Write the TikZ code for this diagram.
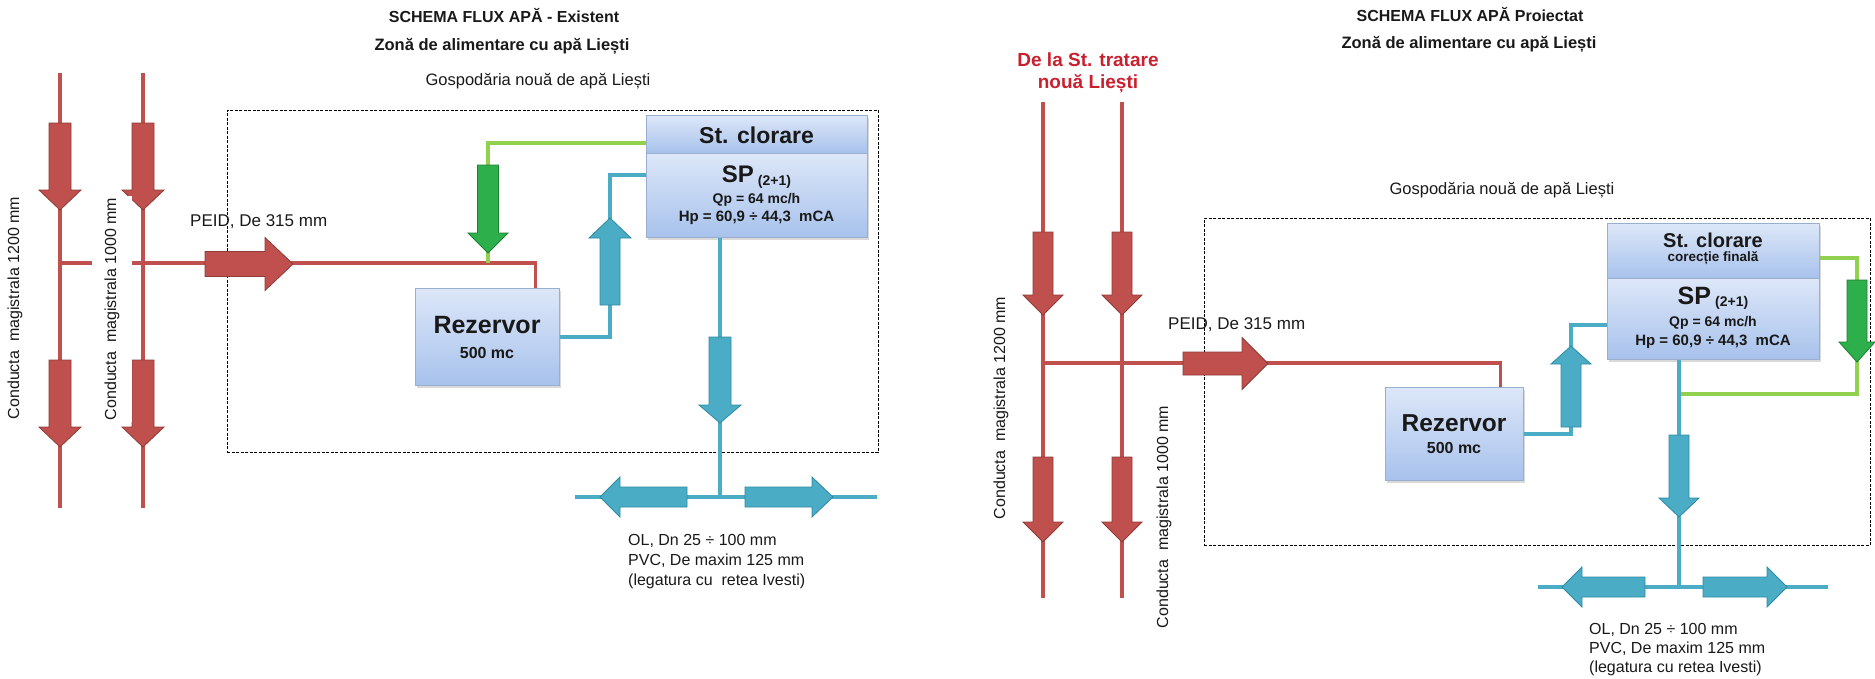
\documentclass[tikz,border=0pt]{standalone}
\usepackage{fontspec}
\setmainfont{Liberation Sans}
\usetikzlibrary{shadows}
\definecolor{rd}{HTML}{C0504D}
\definecolor{rdd}{HTML}{8E3B38}
\definecolor{bl}{HTML}{4BACC6}
\definecolor{bld}{HTML}{2E8AA3}
\definecolor{gr}{HTML}{2DB04B}
\definecolor{grd}{HTML}{1C7F34}
\definecolor{gl}{HTML}{92D050}
\definecolor{boxt}{HTML}{DDE7F8}
\definecolor{boxbot}{HTML}{A8C2EC}
\definecolor{boxb}{HTML}{9AAFCF}
\definecolor{redtxt}{HTML}{C8202F}
\newcommand\fsz[1]{\fontsize{#1}{#1}\selectfont}
% vertical block arrow: x, ytail, ybase, ytip, half shaft, half head, style
\newcommand\vblock[7]{\filldraw[#7] ({#1-#5},#2) -- ({#1-#5},#3) -- ({#1-#6},#3) -- (#1,#4) -- ({#1+#6},#3) -- ({#1+#5},#3) -- ({#1+#5},#2) -- cycle;}
% horizontal block arrow: y, xtail, xbase, xtip, half shaft, half head, style
\newcommand\hblock[7]{\filldraw[#7] (#2,{#1-#5}) -- (#3,{#1-#5}) -- (#3,{#1-#6}) -- (#4,#1) -- (#3,{#1+#6}) -- (#3,{#1+#5}) -- (#2,{#1+#5}) -- cycle;}
\tikzset{
 redline/.style={draw=rd, line width=3.5pt},
 blueline/.style={draw=bl, line width=4pt},
 greenline/.style={draw=gl, line width=4pt},
 redarrow/.style={fill=rd, draw=rdd, line width=0.8pt, line join=miter},
 bluearrow/.style={fill=bl, draw=bld, line width=0.8pt, line join=miter},
 greenarrow/.style={fill=gr, draw=grd, line width=0.8pt, line join=miter},
 bluebox/.style={draw=boxb, line width=1pt, top color=boxt, bottom color=boxbot, inner sep=0pt,
   drop shadow={opacity=0.3, shadow xshift=2pt, shadow yshift=-3pt}},
 dashbox/.style={draw=black, line width=0.9pt, dash pattern=on 3pt off 1.5pt, inner sep=0pt},
 lbl/.style={inner sep=0pt, text=black!90},
 rot/.style={lbl, rotate=90, font=\fsz{16}},
}
\begin{document}
\begin{tikzpicture}[x=1pt,y=-1pt]
\useasboundingbox (0,0) rectangle (1875,678);
% ================= LEFT PANEL =================
\node[lbl,font=\fsz{16}\bfseries] (titleL) at (504,16) {SCHEMA FLUX APĂ - Existent};
\node[lbl,font=\fsz{16.5}\bfseries] (subL) at (502,46) {Zonă de alimentare cu apă Liești};
\node[lbl,font=\fsz{16.5}] (gospL) at (538,81) {Gospodăria nouă de apă Liești};
\node[dashbox, minimum width=651pt, minimum height=342pt] (frameL) at (552.5,281) {};
% boxes
\node[bluebox, minimum width=221pt, minimum height=38pt] (clorL) at (756.5,134) {};
\node[bluebox, minimum width=221pt, minimum height=84pt] (spL) at (756.5,195) {};
\node[bluebox, minimum width=144pt, minimum height=97pt] (rezL) at (487,336.5) {};
% coordinates
\coordinate (pL1t) at (60,73);  \coordinate (pL1b) at (60,508);
\coordinate (pL2t) at (143,73); \coordinate (pL2b) at (143,508);
\coordinate (jL) at (60,263);
\coordinate (gjL) at (488,263);
\coordinate (buL) at (610,280);
\coordinate (bjL) at (720,497);
\coordinate (dL1) at (575,497); \coordinate (dL2) at (877,497);
% lines
\draw[redline] (pL1t) -- (pL1b);
\draw[redline] (pL2t) -- (pL2b);
\draw[redline] (jL) -| ([xshift=-24pt]rezL.north east);
\draw[greenline] ([yshift=-9pt]clorL.west) -| (gjL);
\draw[blueline] (rezL.east) -| (buL) |- ([yshift=20pt]spL.west);
\draw[blueline] ([xshift=-36.5pt]spL.south) -- (bjL);
\draw[blueline] (dL1) -- (dL2);
% block arrows
\vblock{60}{123}{190}{210}{11}{21}{redarrow}
\vblock{143}{123}{190}{210}{11}{21}{redarrow}
\vblock{60}{360}{427}{447}{11}{21}{redarrow}
\vblock{143}{360}{427}{447}{11}{21}{redarrow}
\hblock{264}{205}{265}{293}{12.5}{26.5}{redarrow}
\vblock{488}{165}{233}{253}{10.5}{20}{greenarrow}
\vblock{610}{305}{238}{218}{10}{21}{bluearrow}
\vblock{720}{337}{405}{423}{11}{21}{bluearrow}
\hblock{497}{687}{620}{600}{10}{20}{bluearrow}
\hblock{497}{745}{812}{833}{10}{20}{bluearrow}
% labels
\node[rot] (c1200L) at (15,308) {Conducta\ \ magistrala 1200 mm};
\node[rot, fill=white, inner xsep=2pt, inner ysep=13pt] (c1000L) at (112,309) {Conducta\ \ magistrala 1000 mm};
\node[lbl,font=\fsz{17},anchor=west] (peidL) at (190,222) {PEID, De 315 mm};
\node[lbl,font=\fsz{23}\bfseries] (clorLt) at (756.5,135) {St. clorare};
\node[lbl,font=\fsz{24}\bfseries] (spLt) at (756.5,177) {SP\,\raisebox{-2.5pt}{\fsz{14}(2+1)}};
\node[lbl,font=\fsz{14}\bfseries] (qpL) at (756.5,200) {Qp = 64 mc/h};
\node[lbl,font=\fsz{15}\bfseries] (hpL) at (756.5,218) {Hp = 60,9 ÷ 44,3\ \ mCA};
\node[lbl,font=\fsz{25}\bfseries] (rezLt) at (487,325) {Rezervor};
\node[lbl,font=\fsz{16}\bfseries] (rezLv) at (487,353) {500 mc};
\node[lbl,font=\fsz{16},anchor=west] (olL1) at (628,541) {OL, Dn 25 ÷ 100 mm};
\node[lbl,font=\fsz{16},anchor=west] (olL2) at (628,561) {PVC, De maxim 125 mm};
\node[lbl,font=\fsz{16},anchor=west] (olL3) at (628,581) {(legatura cu\ \ retea Ivesti)};
% ================= RIGHT PANEL =================
\node[lbl,font=\fsz{16}\bfseries] (titleR) at (1470,15) {SCHEMA FLUX APĂ Proiectat};
\node[lbl,font=\fsz{16.5}\bfseries] (subR) at (1469,44) {Zonă de alimentare cu apă Liești};
\node[lbl,font=\fsz{19}\bfseries,text=redtxt] (delaR1) at (1088,60) {De la St. tratare};
\node[lbl,font=\fsz{19}\bfseries,text=redtxt] (delaR2) at (1088,84) {nouă Liești};
\node[lbl,font=\fsz{16.5}] (gospR) at (1502,190) {Gospodăria nouă de apă Liești};
\node[dashbox, minimum width=666pt, minimum height=327pt] (frameR) at (1537,381.5) {};
% boxes
\node[bluebox, minimum width=212pt, minimum height=55pt] (clorR) at (1713,250.5) {};
\node[bluebox, minimum width=212pt, minimum height=81pt] (spR) at (1713,318.5) {};
\node[bluebox, minimum width=138pt, minimum height=93pt] (rezR) at (1454,433.5) {};
% coordinates
\coordinate (pR1t) at (1043,102); \coordinate (pR1b) at (1043,598);
\coordinate (pR2t) at (1122,102); \coordinate (pR2b) at (1122,598);
\coordinate (jR) at (1043,363);
\coordinate (gcR) at (1857,394);
\coordinate (gjR) at (1679,394);
\coordinate (buR) at (1571,380);
\coordinate (bjR) at (1679,587);
\coordinate (dR1) at (1538,587); \coordinate (dR2) at (1828,587);
% lines
\draw[redline] (pR1t) -- (pR1b);
\draw[redline] (pR2t) -- (pR2b);
\draw[redline] (jR) -| ([xshift=-23pt]rezR.north east);
\draw[greenline] ([yshift=-7.5pt]clorR.east) -| (gcR) -- (gjR);
\draw[blueline] (rezR.east) -| (buR) |- ([yshift=-6.5pt]spR.west);
\draw[blueline] ([xshift=-34pt]spR.south) -- (bjR);
\draw[blueline] (dR1) -- (dR2);
% block arrows
\vblock{1043}{232}{295}{315}{10}{20}{redarrow}
\vblock{1122}{232}{295}{315}{10}{20}{redarrow}
\vblock{1043}{457}{522}{542}{10}{20}{redarrow}
\vblock{1122}{457}{522}{542}{10}{20}{redarrow}
\hblock{363.5}{1183}{1242}{1268}{11.5}{26}{redarrow}
\vblock{1857}{280}{342}{362}{10}{18}{greenarrow}
\vblock{1571}{427}{364}{346}{10}{20}{bluearrow}
\vblock{1679}{435}{498}{517}{10}{20}{bluearrow}
\hblock{587}{1645}{1582}{1562}{10}{20}{bluearrow}
\hblock{587}{1703}{1767}{1787}{10}{20}{bluearrow}
% labels
\node[rot] (c1200R) at (1001,408) {Conducta\ \ magistrala 1200 mm};
\node[rot] (c1000R) at (1164,517) {Conducta\ \ magistrala 1000 mm};
\node[lbl,font=\fsz{17},anchor=west] (peidR) at (1168,325) {PEID, De 315 mm};
\node[lbl,font=\fsz{20}\bfseries] (clorRt) at (1713,240) {St. clorare};
\node[lbl,font=\fsz{13.5}\bfseries] (clorRs) at (1713,258) {corecție finală};
\node[lbl,font=\fsz{25}\bfseries] (spRt) at (1713,298) {SP\,\raisebox{-2.5pt}{\fsz{14}(2+1)}};
\node[lbl,font=\fsz{14}\bfseries] (qpR) at (1713,323) {Qp = 64 mc/h};
\node[lbl,font=\fsz{15}\bfseries] (hpR) at (1713,342) {Hp = 60,9 ÷ 44,3\ \ mCA};
\node[lbl,font=\fsz{24.5}\bfseries] (rezRt) at (1454,423) {Rezervor};
\node[lbl,font=\fsz{16}\bfseries] (rezRv) at (1454,448) {500 mc};
\node[lbl,font=\fsz{16},anchor=west] (olR1) at (1589,630) {OL, Dn 25 ÷ 100 mm};
\node[lbl,font=\fsz{16},anchor=west] (olR2) at (1589,649) {PVC, De maxim 125 mm};
\node[lbl,font=\fsz{16},anchor=west] (olR3) at (1589,668) {(legatura cu retea Ivesti)};
\end{tikzpicture}
\end{document}
